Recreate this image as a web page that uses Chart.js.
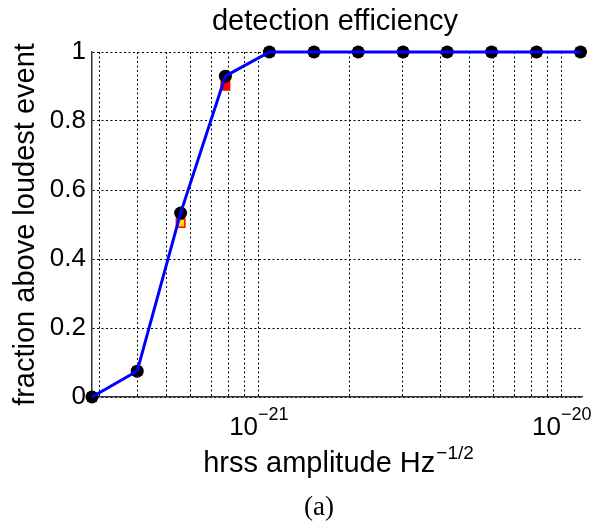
<!DOCTYPE html>
<html>
<head>
<meta charset="utf-8">
<script src="https://cdn.jsdelivr.net/npm/chart.js@4"></script>
<style>
  html, body { margin: 0; padding: 0; background: #fff; }
  #wrap { width: 597px; height: 529px; position: relative; }
</style>
</head>
<body>
<div id="wrap"><canvas id="c" width="597" height="529"></canvas></div>
<script>
// ---- data ----
const hrssAmplitude = [2.83e-22, 3.99e-22, 5.55e-22, 7.8e-22, 1.09e-21, 1.53e-21, 2.14e-21, 3.01e-21, 4.21e-21, 5.9e-21, 8.3e-21, 1.16e-20];
const efficiency    = [0.0, 0.075, 0.533, 0.93, 1, 1, 1, 1, 1, 1, 1, 1];
const efficiencyAlt = [0.0, 0.075, 0.504, 0.902, 1, 1, 1, 1, 1, 1, 1, 1];
const xGridValues   = [3e-22, 4e-22, 5e-22, 6e-22, 7e-22, 8e-22, 9e-22, 1e-21, 2e-21, 3e-21, 4e-21, 5e-21, 6e-21, 7e-21, 8e-21, 9e-21, 1e-20];
const xDecades      = [-21, -20];
const yTicks        = [0, 0.2, 0.4, 0.6, 0.8, 1];
const xMin = 2.83e-22, xMax = 1.173e-20;

const titleText  = 'detection efficiency';
const xTitleText = 'hrss amplitude Hz';
const xTitleExp  = '\u22121/2';
const yTitleText = 'fraction above loudest event';
const captionText = '(a)';

const SANS = '"Liberation Sans", Arial, Helvetica, sans-serif';

const textPlugin = {
  id: 'textPlugin',
  afterDraw(chart) {
    const ctx = chart.ctx;
    const xs = chart.scales.x;
    ctx.save();
    ctx.fillStyle = '#000';
    ctx.textBaseline = 'alphabetic';
    // x tick labels 10^n
    xDecades.forEach(e => {
      const px = xs.getPixelForValue(Math.pow(10, e));
      ctx.font = '26px ' + SANS;
      ctx.textAlign = 'right';
      ctx.fillText('10', px, 435);
      ctx.font = '18px ' + SANS;
      ctx.textAlign = 'left';
      ctx.fillText('\u2212' + Math.abs(e), px, 420);
    });
    // title
    ctx.font = '29px ' + SANS;
    ctx.textAlign = 'center';
    ctx.fillText(titleText, 335, 30);
    // x title with superscript
    ctx.font = '29px ' + SANS;
    const w1 = ctx.measureText(xTitleText).width;
    ctx.font = '19px ' + SANS;
    const w2 = ctx.measureText(xTitleExp).width;
    const startX = 338 - (w1 + w2) / 2;
    ctx.textAlign = 'left';
    ctx.font = '29px ' + SANS;
    ctx.fillText(xTitleText, startX, 472);
    ctx.font = '19px ' + SANS;
    ctx.fillText(xTitleExp, startX + w1 + 1, 459);
    // caption
    ctx.font = '27px "Liberation Serif", "Times New Roman", serif';
    ctx.textAlign = 'center';
    ctx.fillText(captionText, 319, 515);
    ctx.restore();
  }
};

new Chart(document.getElementById('c'), {
  type: 'line',
  data: {
    datasets: [
      {
        label: 'efficiency line',
        data: hrssAmplitude.map((x, i) => ({x, y: efficiency[i]})),
        borderColor: '#0000ff',
        borderWidth: 3,
        pointRadius: 0,
        fill: false,
        tension: 0,
        clip: false
      },
      {
        label: 'efficiency points',
        data: hrssAmplitude.map((x, i) => ({x, y: efficiency[i]})),
        showLine: false,
        pointRadius: 6.5,
        pointBackgroundColor: '#000',
        pointBorderColor: '#000',
        pointBorderWidth: 0,
        clip: false
      },
      {
        label: 'alt',
        data: hrssAmplitude.map((x, i) => ({x, y: efficiencyAlt[i]})),
        showLine: false,
        pointStyle: 'rect',
        pointRadius: 6,
        pointBackgroundColor: hrssAmplitude.map((x, i) => i === 2 ? '#ffe000' : '#ff0000'),
        pointBorderColor: '#ff0000',
        pointBorderWidth: 1.5,
        clip: false
      }
    ]
  },
  plugins: [textPlugin],
  options: {
    responsive: false,
    animation: false,
    devicePixelRatio: 1,
    layout: { padding: { top: 52, right: 15, bottom: 0, left: 0 } },
    plugins: {
      legend: { display: false },
      tooltip: { enabled: false },
      title: { display: false }
    },
    scales: {
      x: {
        type: 'logarithmic',
        min: xMin,
        max: xMax,
        offset: false,
        afterBuildTicks: s => { s.ticks = xGridValues.map(v => ({value: v})); },
        afterFit: s => { s.height = 132; },
        ticks: { display: false },
        grid: { color: '#000', lineWidth: 1, drawTicks: false },
        border: { display: true, color: '#333', width: 1.5, dash: [2, 2.5] }
      },
      y: {
        min: 0,
        max: 1,
        afterBuildTicks: s => { s.ticks = yTicks.map(v => ({value: v})); },
        afterFit: s => { s.width = 92; },
        ticks: {
          padding: 6,
          color: '#000',
          font: { family: SANS, size: 26 },
          callback: v => String(+v.toFixed(1))
        },
        grid: { color: '#000', lineWidth: 1, drawTicks: false },
        border: { display: true, color: '#333', width: 1.5, dash: [2, 2.5] },
        title: {
          display: true,
          text: yTitleText,
          color: '#000',
          font: { family: SANS, size: 29 },
          padding: { top: 9, bottom: 0 }
        }
      }
    }
  }
});
</script>
</body>
</html>
